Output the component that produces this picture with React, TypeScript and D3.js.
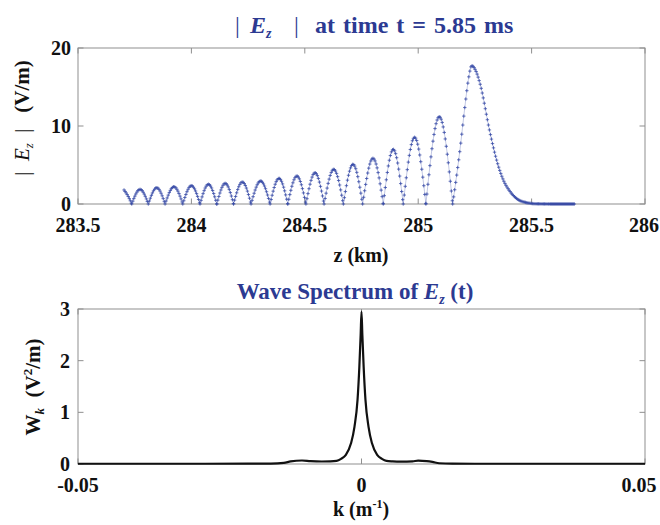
import React, { useEffect, useRef } from 'react';
import * as d3 from 'd3';

// ---------- Top panel data: |Ez| (V/m) versus z (km) ----------
const zTicks = [283.5, 284, 284.5, 285, 285.5, 286];
const zTickLabels = ['283.5', '284', '284.5', '285', '285.5', '286'];
const ezTicks = [0, 10, 20];
// partial descending arch at the start of the record
const leadZ = [283.703, 283.72, 283.737];
const leadE = [1.8, 1.05, 0];
// nulls of |Ez| and the amplitude of each arch between consecutive nulls
const humpZeros = [283.737, 283.81, 283.884, 283.962, 284.038, 284.112, 284.186, 284.263, 284.347, 284.425, 284.505, 284.585, 284.67, 284.755, 284.846, 284.934, 285.034, 285.152];
const humpPeaks = [1.88, 2.09, 2.22, 2.35, 2.53, 2.65, 2.82, 2.95, 3.29, 3.59, 4.01, 4.45, 5.09, 5.86, 7.01, 8.55, 11.19];
// leading pulse
const pulseZ = [285.152, 285.184, 285.206, 285.221, 285.236, 285.252, 285.272, 285.317, 285.346, 285.375, 285.405, 285.434, 285.478, 285.52, 285.6, 285.691];
const pulseE = [0, 6.9, 12.5, 15.9, 17.73, 17.2, 15.5, 9.1, 5.6, 3.1, 1.6, 0.7, 0.17, 0.03, 0, 0];

// ---------- Bottom panel data: Wk (V^2/m) versus k (1/m) ----------
const kTicks = [-0.05, 0, 0.05];
const kTickLabels = ['-0.05', '0', '0.05'];
const wTicks = [0, 1, 2, 3];
const kVals = [-0.05, -0.03, -0.02, -0.016, -0.0137, -0.0125, -0.0105, -0.009, -0.007, -0.0055, -0.0044, -0.0036, -0.0028, -0.00185, -0.00124, -0.0007, -0.00038, -0.00015, 0,
  0.00015, 0.00038, 0.0007, 0.00124, 0.00185, 0.0028, 0.0036, 0.0044, 0.0055, 0.007, 0.009, 0.01, 0.0115, 0.0125, 0.0137, 0.016, 0.02, 0.03, 0.05];
const wVals = [0.005, 0.005, 0.006, 0.008, 0.02, 0.05, 0.068, 0.055, 0.048, 0.05, 0.06, 0.1, 0.17, 0.4, 0.72, 1.24, 1.88, 2.5, 2.95,
  2.5, 1.88, 1.24, 0.72, 0.4, 0.17, 0.1, 0.06, 0.05, 0.045, 0.05, 0.065, 0.055, 0.04, 0.015, 0.006, 0.005, 0.005, 0.005];

const BLUE_T = '#2c3a92';
const BLUE_D = '#3448a6';
const GRAY = '#8f8f8f';
const FONT = "'Liberation Serif', 'Times New Roman', serif";

const L = 78, R = 645;
const topX = d3.scaleLinear().domain([283.5, 286]).range([L, R]);
const topY = d3.scaleLinear().domain([0, 20]).range([204, 48]);
const botX = d3.scaleLinear().domain([-0.05, 0.05]).range([L, R]);
const botY = d3.scaleLinear().domain([0, 3]).range([464, 309]);

type P = [number, number];

export default function App() {
  const pathsRef = useRef<SVGGElement>(null);
  const markRef = useRef<SVGPathElement>(null);

  const archLine = d3.line<P>().x(d => topX(d[0])).y(d => topY(d[1])).curve(d3.curveNatural);
  const pulseLine = d3.line<P>().x(d => topX(d[0])).y(d => topY(d[1])).curve(d3.curveMonotoneX);
  const segs: string[] = [];
  segs.push(archLine(leadZ.map((z, i) => [z, leadE[i]] as P)) || '');
  humpPeaks.forEach((a, i) => {
    const z0 = humpZeros[i], z1 = humpZeros[i + 1];
    segs.push(archLine([[z0, 0], [(z0 + z1) / 2, a], [z1, 0]]) || '');
  });
  segs.push(pulseLine(pulseZ.map((z, i) => [z, pulseE[i]] as P)) || '');

  const specLine = d3.line<P>().x(d => botX(d[0])).y(d => botY(d[1])).curve(d3.curveMonotoneX);
  const specD = specLine(kVals.map((k, i) => [k, wVals[i]] as P)) || '';

  useEffect(() => {
    if (!pathsRef.current || !markRef.current) return;
    const paths = pathsRef.current.querySelectorAll('path');
    let d = '';
    const s = 1.7;
    paths.forEach((p) => {
      const len = (p as SVGPathElement).getTotalLength();
      let nextX = -Infinity;
      for (let t = 0; t <= len; t += 0.2) {
        const pt = (p as SVGPathElement).getPointAtLength(t);
        if (pt.x >= nextX) {
          d += `M${(pt.x - s).toFixed(2)},${pt.y.toFixed(2)}h${2 * s}M${pt.x.toFixed(2)},${(pt.y - s).toFixed(2)}v${2 * s}`;
          nextX = pt.x + 1.0;
        }
      }
    });
    markRef.current.setAttribute('d', d);
  }, []);

  const tk = 5.5;
  // keep edge labels inside the 660 px page
  const labelX = (x: number, half: number) => Math.min(x, 659 - half);

  return (
    <svg width={660} height={525} style={{ position: 'absolute', left: 0, top: 0, background: '#fff' }} fontFamily={FONT}>
      <rect x={0} y={0} width={660} height={525} fill="#fff" />

      {/* ================= TOP PANEL ================= */}
      <text x={235} y={33} fill={BLUE_T} fontSize={24} fontWeight="bold" xmlSpace="preserve">
        <tspan fontWeight="normal">|</tspan>
        <tspan x={250} fontStyle="italic">E</tspan>
        <tspan fontStyle="italic" fontSize={14} dy={5}>z</tspan>
        <tspan x={294} dy={-5} fontWeight="normal">|</tspan>
        <tspan x={315} wordSpacing={2}>at time t = 5.85 ms</tspan>
      </text>

      <rect x={L} y={topY(20)} width={R - L} height={topY(0) - topY(20)} fill="none" stroke={GRAY} strokeWidth={1} />
      {zTicks.map((v) => (
        <g key={'zt' + v} stroke={GRAY} strokeWidth={1}>
          <line x1={topX(v)} x2={topX(v)} y1={topY(0)} y2={topY(0) - tk} />
          <line x1={topX(v)} x2={topX(v)} y1={topY(20)} y2={topY(20) + tk} />
        </g>
      ))}
      {ezTicks.map((v) => (
        <g key={'et' + v} stroke={GRAY} strokeWidth={1}>
          <line x1={L} x2={L + tk} y1={topY(v)} y2={topY(v)} />
          <line x1={R} x2={R - tk} y1={topY(v)} y2={topY(v)} />
        </g>
      ))}
      {zTicks.map((v, i) => (
        <text key={'ztl' + v} x={labelX(topX(v), 15)} y={232} textAnchor="middle" fontSize={20} fontWeight="bold" fill="#111">{zTickLabels[i]}</text>
      ))}
      {ezTicks.map((v) => (
        <text key={'etl' + v} x={71} y={topY(v) + 7} textAnchor="end" fontSize={20} fontWeight="bold" fill="#111">{v}</text>
      ))}

      <g ref={pathsRef}>
        {segs.map((d, i) => (
          <path key={'seg' + i} d={d} fill="none" stroke={BLUE_D} strokeWidth={0.6} strokeOpacity={0.5} />
        ))}
      </g>
      <path ref={markRef} d="" fill="none" stroke={BLUE_D} strokeWidth={0.9} strokeOpacity={0.85} />

      <text x={361} y={262} textAnchor="middle" fontSize={20} fontWeight="bold" fill="#111">z (km)</text>
      <text transform="translate(29,118) rotate(-90)" textAnchor="middle" fontSize={21} fill="#111" xmlSpace="preserve">
        <tspan>|  </tspan>
        <tspan fontStyle="italic">E</tspan>
        <tspan fontStyle="italic" fontSize={13} dy={4}>z</tspan>
        <tspan dy={-4}>  |   </tspan>
        <tspan fontWeight="bold">(V/m)</tspan>
      </text>

      {/* ================= BOTTOM PANEL ================= */}
      <text x={355} y={299} textAnchor="middle" fill={BLUE_T} fontSize={23} fontWeight="bold" xmlSpace="preserve">
        <tspan>Wave Spectrum of </tspan>
        <tspan fontStyle="italic">E</tspan>
        <tspan fontStyle="italic" fontSize={14} dy={5}>z</tspan>
        <tspan dy={-5}> (t)</tspan>
      </text>

      <rect x={L} y={botY(3)} width={R - L} height={botY(0) - botY(3)} fill="none" stroke={GRAY} strokeWidth={1} />
      {kTicks.map((v) => (
        <g key={'kt' + v} stroke={GRAY} strokeWidth={1}>
          <line x1={botX(v)} x2={botX(v)} y1={botY(0)} y2={botY(0) - tk} />
          <line x1={botX(v)} x2={botX(v)} y1={botY(3)} y2={botY(3) + tk} />
        </g>
      ))}
      {wTicks.map((v) => (
        <g key={'wt' + v} stroke={GRAY} strokeWidth={1}>
          <line x1={L} x2={L + tk} y1={botY(v)} y2={botY(v)} />
          <line x1={R} x2={R - tk} y1={botY(v)} y2={botY(v)} />
        </g>
      ))}
      {kTicks.map((v, i) => (
        <text key={'ktl' + v} x={labelX(botX(v), 20)} y={492} textAnchor="middle" fontSize={20} fontWeight="bold" fill="#111">{kTickLabels[i]}</text>
      ))}
      {wTicks.map((v) => (
        <text key={'wtl' + v} x={70} y={botY(v) + 7} textAnchor="end" fontSize={20} fontWeight="bold" fill="#111">{v}</text>
      ))}

      <path d={specD} fill="none" stroke="#111" strokeWidth={2.2} strokeLinejoin="round" />

      <text x={361} y={516} textAnchor="middle" fontSize={20} fontWeight="bold" fill="#111" xmlSpace="preserve">
        <tspan>k (m</tspan>
        <tspan fontSize={12} dy={-8}>-1</tspan>
        <tspan dy={8}>)</tspan>
      </text>
      <text transform="translate(40,387) rotate(-90)" textAnchor="middle" fontSize={21} fontWeight="bold" fill="#111" xmlSpace="preserve">
        <tspan>W</tspan>
        <tspan fontStyle="italic" fontSize={13} dy={4}>k</tspan>
        <tspan dy={-4}>  (V</tspan>
        <tspan fontSize={13} dy={-8}>2</tspan>
        <tspan dy={8}>/m)</tspan>
      </text>
    </svg>
  );
}
